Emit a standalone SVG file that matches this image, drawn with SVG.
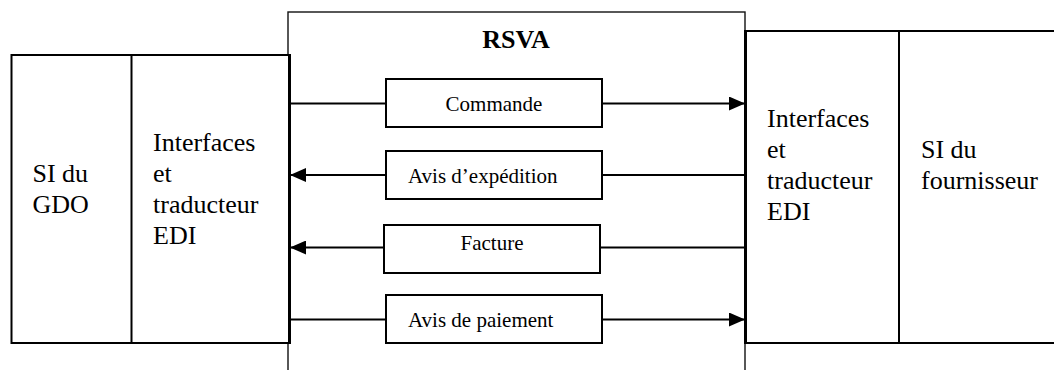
<svg xmlns="http://www.w3.org/2000/svg" width="1054" height="370" viewBox="0 0 1054 370">
<style>
.box{fill:#fff;stroke:#000;stroke-width:2}
.thin{fill:none;stroke:#111;stroke-width:1.4}
.ln{stroke:#000;stroke-width:2;fill:none}
.bar{stroke:#000;stroke-width:3;fill:none}
text{font-family:'Liberation Serif','DejaVu Serif',serif;fill:#000}
.big{font-size:26px}
.msg{font-size:21px}
.title{font-size:26px;font-weight:bold}
</style>
<defs>
<marker id="arr" markerUnits="userSpaceOnUse" markerWidth="16" markerHeight="14" refX="16" refY="7" orient="auto">
<polygon points="0,0 16,7 0,14" fill="#000"/>
</marker>
</defs>
<rect width="1054" height="370" fill="#fff"/>

<g id="rsva">
<rect class="thin" x="288" y="12" width="457" height="380"/>
<text class="title" x="516" y="48" text-anchor="middle">RSVA</text>
</g>

<g id="gdo">
<rect class="box" x="11.5" y="55" width="277.5" height="288"/>
<line class="box" x1="131.5" y1="55" x2="131.5" y2="343"/>
<text class="big" x="32.5" y="182">SI du<tspan x="32.5" dy="31">GDO</tspan></text>
<text class="big" x="153" y="151">Interfaces<tspan x="153" dy="31">et</tspan><tspan x="153" dy="30.5">traducteur</tspan><tspan x="153" dy="31">EDI</tspan></text>
</g>

<g id="fournisseur">
<path class="ln" d="M745,31 H1054 M745,343 H1054 M899,31 V343"/>
<text class="big" x="767" y="127">Interfaces<tspan x="767" dy="30.5">et</tspan><tspan x="767" dy="31">traducteur</tspan><tspan x="767" dy="31">EDI</tspan></text>
<text class="big" x="921" y="157.5">SI du<tspan x="921" dy="31">fournisseur</tspan></text>
</g>

<g id="connectors">
<line class="bar" x1="289.5" y1="54" x2="289.5" y2="344"/>
<line class="bar" x1="745.5" y1="30" x2="745.5" y2="344"/>
<line class="ln" x1="289" y1="103.5" x2="386" y2="103.5"/>
<line class="ln" x1="602" y1="103.5" x2="745" y2="103.5" marker-end="url(#arr)"/>
<line class="ln" x1="745" y1="175" x2="602" y2="175"/>
<line class="ln" x1="386" y1="175" x2="290" y2="175" marker-end="url(#arr)"/>
<line class="ln" x1="745" y1="247.5" x2="600" y2="247.5"/>
<line class="ln" x1="384" y1="247.5" x2="290" y2="247.5" marker-end="url(#arr)"/>
<line class="ln" x1="289" y1="319.5" x2="386" y2="319.5"/>
<line class="ln" x1="602" y1="319.5" x2="745" y2="319.5" marker-end="url(#arr)"/>
</g>

<g id="commande">
<rect class="box" x="386" y="79" width="216" height="48"/>
<text class="msg" x="494" y="110.5" text-anchor="middle">Commande</text>
</g>
<g id="avis-expedition">
<rect class="box" x="386" y="151" width="216" height="48"/>
<text class="msg" x="408" y="183">Avis d’expédition</text>
</g>
<g id="facture">
<rect class="box" x="384" y="225" width="216" height="48"/>
<text class="msg" x="492" y="249.5" text-anchor="middle">Facture</text>
</g>
<g id="avis-paiement">
<rect class="box" x="386" y="295" width="216" height="48"/>
<text class="msg" x="408" y="327">Avis de paiement</text>
</g>
</svg>
